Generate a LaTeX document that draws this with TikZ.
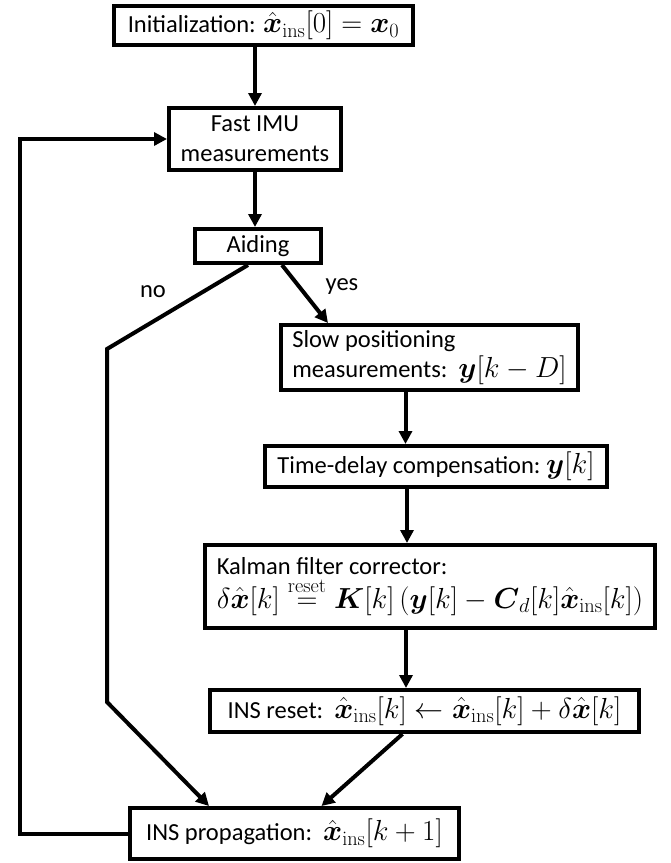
\RequirePackage{fix-cm}
\documentclass[tikz,border=0pt]{standalone}
\usepackage{amsmath}
\usepackage[no-math]{fontspec}
\setmainfont{Carlito}
\usetikzlibrary{arrows.meta,calc}
\newcommand{\mth}[1]{{\fontsize{29}{30}\selectfont$#1$}}
\newcommand{\xh}{\hat{\boldsymbol{x}}}
\begin{document}
\begin{tikzpicture}[x=1pt,y=-1pt,
  box/.style={draw, line width=4pt, inner sep=0pt, font=\fontsize{24.5}{30}\selectfont, align=center},
  lbl/.style={inner sep=0pt, font=\fontsize{24.5}{30}\selectfont},
  arr/.style={line width=4pt, -{Triangle[length=13pt,width=13pt]}}]
\useasboundingbox (0,0) rectangle (671,863);

\node[box, minimum width=299pt, minimum height=39pt] (init) at (263.5,25.5)
  {Initialization: \mth{\xh_{\mathrm{ins}}[0]=\boldsymbol{x}_0}};
\node[box, minimum width=172pt, minimum height=62pt] (imu) at (255,139)
  {Fast IMU\\measurements};
\node[box, minimum width=126pt, minimum height=34pt] (aid) at (258,246) {Aiding};
\node[box, minimum width=297pt, minimum height=65pt, align=left] (slow) at (429.5,357.5)
  {Slow positioning\\measurements:\ \ \mth{\boldsymbol{y}[k-D]}};
\node[box, minimum width=342pt, minimum height=41pt] (time) at (436,466.5)
  {Time-delay compensation:\ \mth{\boldsymbol{y}[k]}};
\node[box, minimum width=450pt, minimum height=83pt, align=left] (kal) at (430,586.5)
  {Kalman filter corrector:\\[2pt]\mth{\delta\xh[k]\stackrel{\mathrm{reset}}{=}\boldsymbol{K}[k]\left(\boldsymbol{y}[k]-\boldsymbol{C}_d[k]\xh_{\mathrm{ins}}[k]\right)}};
\node[box, minimum width=429pt, minimum height=42pt] (reset) at (424.5,711)
  {INS reset:\ \ \mth{\xh_{\mathrm{ins}}[k]\leftarrow\xh_{\mathrm{ins}}[k]+\delta\xh[k]}};
\node[box, minimum width=329pt, minimum height=51pt] (prop) at (294.5,833.5)
  {INS propagation:\ \ \mth{\xh_{\mathrm{ins}}[k+1]}};

\node[lbl] (no) at (153,292) {no};
\node[lbl] (yes) at (342,287) {yes};

\coordinate (n1) at (107,349);
\coordinate (n2) at (107,702);
\coordinate (fb) at (20,0);

\draw[arr] (imu.north |- init.south) -- (imu.north);
\draw[arr] (imu.south) -- (imu.south |- aid.north);
\draw[arr] ($(aid.south)+(24,0)$) -- ($(slow.north west)+(49,0)$);
\draw[arr] ($(aid.south)+(-10,0)$) -- (n1) -- (n2) -- ($(prop.north west)+(81,0)$);
\draw[arr] ($(slow.south)+(-24,0)$) coordinate (s1) -- (s1 |- time.north);
\draw[arr] ($(time.south -| kal.north)+(-23,0)$) -- ($(kal.north)+(-23,0)$);
\draw[arr] ($(kal.south)+(-24,0)$) coordinate (k1) -- (k1 |- reset.north);
\draw[arr] ($(reset.south)+(-22,0)$) -- ($(prop.north)+(27,0)$);
\draw[arr] (prop.west) -- (prop.west -| fb) |- (imu.west);
\end{tikzpicture}
\end{document}
